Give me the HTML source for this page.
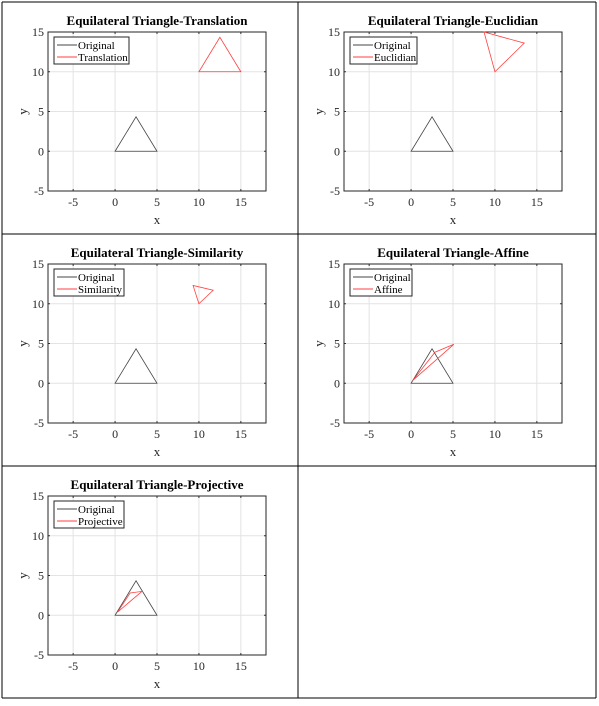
<!DOCTYPE html>
<html><head><meta charset="utf-8"><style>
body{margin:0;background:#fff}
svg{display:block;font-family:"Liberation Serif",serif}
</style></head><body>
<svg id="s" width="599" height="706" viewBox="0 0 599 706"></svg>
<script>
const xTicks=[-5,0,5,10,15];
const yTicks=[-5,0,5,10,15];
const origX=[0,5,2.5];
const origY=[0,0,4.33];
const titles=["Equilateral Triangle-Translation","Equilateral Triangle-Euclidian","Equilateral Triangle-Similarity","Equilateral Triangle-Affine","Equilateral Triangle-Projective"];
const labels=["Translation","Euclidian","Similarity","Affine","Projective"];
const transX=[10,15,12.5];
const transY=[10,10,14.33];
const euclX=[10,13.5,8.7];
const euclY=[10,13.6,15];
const simX=[10,11.7,9.3];
const simY=[10,11.7,12.3];
const affX=[0.2,5.1,2.85];
const affY=[0.35,4.9,3.9];
const projX=[0.3,3.2,1.8];
const projY=[0.4,3.0,2.8];
const redX=[transX,euclX,simX,affX,projX];
const redY=[transY,euclY,simY,affY,projY];
const legW=[75,67,70,62,70];
const NS="http://www.w3.org/2000/svg";
const s=document.getElementById('s');
function mk(t,a,p){const e=document.createElementNS(NS,t);for(const k in a)e.setAttribute(k,a[k]);(p||s).appendChild(e);return e;}
[2,298,596].forEach(x=>{const l=mk('line',{x1:x,y1:2,x2:x,y2:698,stroke:'#000','stroke-width':1});

});
[2,234,466,698].forEach(y=>{const l=mk('line',{x1:2,y1:y,x2:596,y2:y,stroke:'#000','stroke-width':1});

});
const cells=[[2,2],[298,2],[2,234],[298,234],[2,466]];
cells.forEach((c,i)=>{
 const g=mk('g',{});
 
 
 const L=c[0]+46,T=c[1]+30,W=218,H=159;
 const X=v=>L+(v+8)/26*W, Y=v=>T+H-(v+5)/20*H;
 xTicks.forEach(v=>{const l=mk('line',{x1:X(v),y1:T,x2:X(v),y2:T+H,stroke:'#e3e3e3'},g);
  
  
  mk('line',{x1:X(v),y1:T+H,x2:X(v),y2:T+H-2,stroke:'#333'},g);
  mk('line',{x1:X(v),y1:T,x2:X(v),y2:T+2,stroke:'#333'},g);
  const t=mk('text',{x:X(v),y:T+H+15,'text-anchor':'middle','font-size':12,fill:'#262626'},g);t.textContent=v;
  
  });
 yTicks.forEach(v=>{const l=mk('line',{x1:L,y1:Y(v),x2:L+W,y2:Y(v),stroke:'#e3e3e3'},g);
  
  
  mk('line',{x1:L,y1:Y(v),x2:L+2,y2:Y(v),stroke:'#333'},g);
  mk('line',{x1:L+W,y1:Y(v),x2:L+W-2,y2:Y(v),stroke:'#333'},g);
  const t=mk('text',{x:L-4,y:Y(v)+4,'text-anchor':'end','font-size':12,fill:'#262626'},g);t.textContent=v;
  
  });
 const b=mk('rect',{x:L,y:T,width:W,height:H,fill:'none',stroke:'#262626'},g);
 
 
 const o=mk('polygon',{points:origX.map((x,k)=>X(x)+','+Y(origY[k])).join(' '),fill:'none',stroke:'#444','stroke-width':0.8},g);
 
 
 const r=mk('polygon',{points:redX[i].map((x,k)=>X(x)+','+Y(redY[i][k])).join(' '),fill:'none',stroke:'#ff4040','stroke-width':0.8},g);
 
 
 const tt=mk('text',{x:L+W/2,y:T-7,'text-anchor':'middle','font-size':13,'font-weight':'bold'},g);tt.textContent=titles[i];
 
 
 const xl=mk('text',{x:L+W/2,y:T+H+33,'text-anchor':'middle','font-size':13,fill:'#262626'},g);xl.textContent='x';
 
 
 const yl=mk('text',{x:0,y:0,'text-anchor':'middle','font-size':13,fill:'#262626',transform:`translate(${L-21},${T+H/2}) rotate(-90)`},g);yl.textContent='y';
 
 
 const lg=mk('g',{},g);
 
 
 const lx=L+6,ly=T+5;
 mk('rect',{x:lx,y:ly,width:legW[i],height:27,fill:'#fff',stroke:'#262626'},lg);
 mk('line',{x1:lx+3,y1:ly+8,x2:lx+23,y2:ly+8,stroke:'#444'},lg);
 mk('line',{x1:lx+3,y1:ly+20,x2:lx+23,y2:ly+20,stroke:'#ff4040'},lg);
 const a=mk('text',{x:lx+24,y:ly+12,'font-size':11},lg);a.textContent='Original';
 
 
 const bb=mk('text',{x:lx+24,y:ly+24,'font-size':11},lg);bb.textContent=labels[i];
 
 
});
</script>
</body></html>
